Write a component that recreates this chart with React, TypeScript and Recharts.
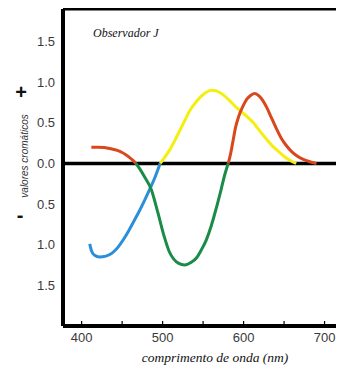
import { LineChart, Line, XAxis, YAxis, ReferenceLine } from "recharts";

// eixos
const X_TICKS = [400, 450, 500, 550, 600, 650, 700];
const Y_TICKS = [-1.5, -1, -0.5, 0, 0.5, 1, 1.5];
const Y_DOMAIN: [number, number] = [-2, 1.9];
const X_DOMAIN: [number, number] = [377, 724];

// trechos das curvas (nm / valor)
const RED_LOW_NM = [412, 420, 428, 436, 444, 450, 455, 459, 463, 467];
const RED_LOW = [0.2, 0.2, 0.195, 0.18, 0.16, 0.135, 0.105, 0.075, 0.04, 0];

const GREEN_NM = [467, 472, 478, 486, 494, 502, 508, 514, 520, 527, 535, 542, 548, 554, 560, 566, 572, 577, 581];
const GREEN = [0, -0.07, -0.17, -0.32, -0.6, -0.9, -1.08, -1.18, -1.23, -1.25, -1.22, -1.16, -1.06, -0.94, -0.77, -0.56, -0.33, -0.13, 0];

const BLUE_NM = [410, 412, 416, 422, 430, 438, 445, 452, 458, 464, 470, 477, 484, 491, 497];
const BLUE = [-0.99, -1.07, -1.13, -1.15, -1.14, -1.1, -1.03, -0.93, -0.83, -0.72, -0.61, -0.47, -0.32, -0.16, 0];

const YELLOW_NM = [497, 503, 509, 515, 521, 527, 533, 540, 546, 553, 560, 567, 574, 582, 590, 598, 605, 612, 620, 628, 636, 644, 651, 657, 665];
const YELLOW = [0, 0.08, 0.17, 0.28, 0.4, 0.52, 0.64, 0.74, 0.81, 0.87, 0.9, 0.89, 0.85, 0.78, 0.7, 0.63, 0.57, 0.5, 0.4, 0.3, 0.21, 0.14, 0.08, 0.04, 0];

const RED_HIGH_NM = [581, 584, 587, 590, 594, 599, 604, 609, 614, 619, 624, 629, 634, 640, 646, 652, 660, 668, 676, 684, 690];
const RED_HIGH = [0, 0.12, 0.28, 0.44, 0.58, 0.7, 0.79, 0.84, 0.86, 0.83, 0.77, 0.68, 0.57, 0.44, 0.32, 0.23, 0.14, 0.08, 0.04, 0.015, 0];

const zip = (nm: number[], v: number[]) => nm.map((x, i) => ({ nm: x, v: v[i] }));

const SEGMENTS = [
  { key: "redLow", data: zip(RED_LOW_NM, RED_LOW), color: "#d9481c" },
  { key: "blue", data: zip(BLUE_NM, BLUE), color: "#2a8fd8" },
  { key: "green", data: zip(GREEN_NM, GREEN), color: "#1a8c48" },
  { key: "yellow", data: zip(YELLOW_NM, YELLOW), color: "#f4ef10" },
  { key: "redHigh", data: zip(RED_HIGH_NM, RED_HIGH), color: "#d9481c" },
];

const TICK_FONT = { fontFamily: "Liberation Sans, Arial, sans-serif", fontSize: 13, fill: "#3a3a3a" };

function XTick({ x, y, payload }: any) {
  const v = payload.value;
  return (
    <g>
      <line x1={x} x2={x} y1={y - 2} y2={y - 5} stroke="#000" strokeWidth={1.2} />
      {v % 100 === 0 && (
        <text x={x} y={y + 16} textAnchor="middle" {...TICK_FONT}>
          {v}
        </text>
      )}
    </g>
  );
}

export default function App() {
  return (
    <div style={{ position: "relative", width: 336, height: 357, overflow: "hidden", fontFamily: "Liberation Sans, Arial, sans-serif" }}>
      <LineChart width={336} height={357} margin={{ top: 1, right: 0, bottom: 0, left: 0 }}>
        <XAxis
          dataKey="nm"
          type="number"
          domain={X_DOMAIN}
          ticks={X_TICKS}
          allowDuplicatedCategory={false}
          height={39}
          tickSize={0}
          tickMargin={0}
          tickLine={false}
          tick={<XTick />}
          axisLine={{ stroke: "#000", strokeWidth: 4 }}
        />
        <YAxis
          type="number"
          domain={Y_DOMAIN}
          ticks={Y_TICKS}
          width={55}
          tickSize={2}
          tickMargin={6}
          tickLine={false}
          tickFormatter={(v: number) => Math.abs(v).toFixed(1)}
          tick={TICK_FONT}
          axisLine={{ stroke: "#000", strokeWidth: 4 }}
        />
        <YAxis
          yAxisId="r"
          orientation="right"
          type="number"
          domain={Y_DOMAIN}
          ticks={[-1.5, -1, -0.5, 0.5, 1, 1.5]}
          width={0}
          mirror
          tickSize={3}
          tick={false}
          tickLine={{ stroke: "#000", strokeWidth: 1.5 }}
          axisLine={{ stroke: "#bbb", strokeWidth: 1 }}
        />
        <ReferenceLine y={Y_DOMAIN[1]} stroke="#000" strokeWidth={3} />
        <ReferenceLine y={0} stroke="#000" strokeWidth={3.5} />
        {SEGMENTS.map((s) => (
          <Line
            key={s.key}
            data={s.data}
            dataKey="v"
            type="monotone"
            stroke={s.color}
            strokeWidth={3}
            dot={false}
            activeDot={false}
            isAnimationActive={false}
          />
        ))}
      </LineChart>
      <svg width={336} height={357} style={{ position: "absolute", left: 0, top: 0, pointerEvents: "none" }}>
        <text x={85} y={25} dominantBaseline="central" fontFamily="Liberation Serif, serif" fontStyle="italic" fontSize={12} fill="#111">
          Observador J
        </text>
        <text x={13} y={84} textAnchor="middle" dominantBaseline="central" fontSize={20} fontWeight="bold" fill="#111">
          +
        </text>
        <text x={12} y={207} textAnchor="middle" dominantBaseline="central" fontSize={20} fontWeight="bold" fill="#111">
          -
        </text>
        <text
          transform="translate(16,148) rotate(-90)"
          textAnchor="middle"
          dominantBaseline="central"
          fontStyle="italic"
          fontSize={10}
          fill="#333"
        >
          valores cromáticos
        </text>
        <text x={207} y={349} textAnchor="middle" dominantBaseline="central" fontFamily="Liberation Serif, serif" fontStyle="italic" fontSize={13.5} fill="#111">
          comprimento de onda (nm)
        </text>
      </svg>
    </div>
  );
}
